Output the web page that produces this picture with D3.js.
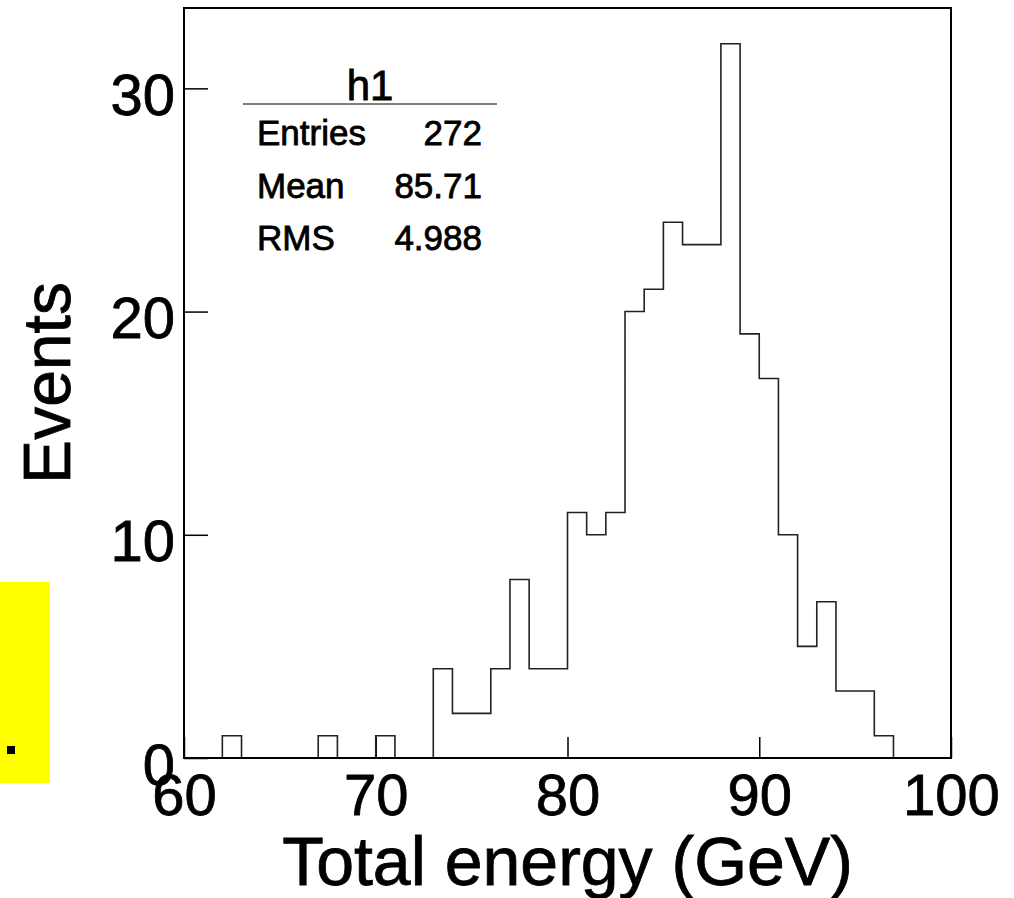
<!DOCTYPE html>
<html>
  <head>
    <!-- load the d3 javascript library -->
    <script src="https://d3js.org/d3.v7.min.js"></script>
    <style>
      body { margin: 0; background: #fff; }
      text { font-family: "Liberation Sans", Arial, sans-serif; fill: #000; stroke: #000; stroke-width: 0.8px; }
    </style>
  </head>
  <body>

    <!-- d3 script -->
    <script>

    // histogram binning (1 GeV bins from 60 to 100)
    var xMin = 60;
    var xMax = 100;
    var binWidth = 1;

    // events per bin
    var counts = [ 0, 0, 1, 0, 0, 0, 0, 1, 0, 0,
      1, 0, 0, 4, 2, 2, 4, 8, 4, 4,
      11, 10, 11, 20, 21, 24, 23, 23, 32, 19,
      17, 10, 5, 7, 3, 3, 1, 0, 0, 0 ];

    // tick labels
    var xTicks = [60, 70, 80, 90, 100];
    var yTicks = [0, 10, 20, 30];

    // stats box
    var statName = "h1";
    var statLabels = ["Entries", "Mean", "RMS"];
    var statValues = ["272", "85.71", "4.988"];

    // svg size and frame edges
    var w = 1014;
    var h = 898;
    var fLeft = 184, fRight = 951, fTop = 8, fBottom = 758;

    var svg = d3.select("body")
      .append("svg")
      .attr("width", w)
      .attr("height", h);

    // scales
    var x = d3.scaleLinear().domain([xMin, xMax]).range([fLeft, fRight]);
    var y = d3.scaleLinear().domain([0, 33.6]).range([fBottom, fTop]);

    // yellow marker on the left edge
    svg.append("rect")
      .attr("x", 0).attr("y", 582)
      .attr("width", 50).attr("height", 201)
      .attr("fill", "#ffff00");
    svg.append("rect")
      .attr("x", 7).attr("y", 746)
      .attr("width", 8).attr("height", 8)
      .attr("fill", "#000");

    // x axis (ticks pointing inward)
    var xAxis = svg.append("g")
      .attr("transform", "translate(0," + fBottom + ")")
      .call(d3.axisBottom(x).tickValues(xTicks).tickSize(-21).tickPadding(16));
    xAxis.select(".domain").remove();
    xAxis.selectAll("line").attr("stroke", "#000").attr("stroke-width", 1.5);
    xAxis.selectAll("text")
      .attr("font-size", "58px")
      .attr("font-family", "Liberation Sans, Arial, sans-serif")
      .attr("fill", "#000");

    // y axis
    var yAxis = svg.append("g")
      .attr("transform", "translate(" + fLeft + ",0)")
      .call(d3.axisLeft(y).tickValues(yTicks).tickSize(-24).tickPadding(9));
    yAxis.select(".domain").remove();
    yAxis.selectAll("line").attr("stroke", "#000").attr("stroke-width", 1.5);
    yAxis.selectAll("text")
      .attr("font-size", "58px")
      .attr("font-family", "Liberation Sans, Arial, sans-serif")
      .attr("fill", "#000")
      .attr("dy", "0.45em");

    // histogram outline
    var pts = [[xMin, 0]];
    counts.forEach(function(c, i) {
      var lo = xMin + i * binWidth;
      pts.push([lo, c]);
      pts.push([lo + binWidth, c]);
    });
    pts.push([xMax, 0]);

    var line = d3.line()
      .x(function(d) { return x(d[0]); })
      .y(function(d) { return y(d[1]); });

    svg.append("path")
      .attr("d", line(pts))
      .attr("fill", "none")
      .attr("stroke", "#222")
      .attr("stroke-width", 1.6);

    // frame
    svg.append("rect")
      .attr("x", fLeft).attr("y", fTop)
      .attr("width", fRight - fLeft).attr("height", fBottom - fTop)
      .attr("fill", "none")
      .attr("stroke", "#000")
      .attr("stroke-width", 2);

    // axis titles
    svg.append("text")
      .attr("x", (fLeft + fRight) / 2)
      .attr("y", 885)
      .attr("text-anchor", "middle")
      .attr("font-size", "68px")
      .text("Total energy (GeV)");

    svg.append("text")
      .attr("transform", "translate(70," + ((fTop + fBottom) / 2) + ") rotate(-90)")
      .attr("text-anchor", "middle")
      .attr("font-size", "66px")
      .text("Events");

    // stats box
    svg.append("text")
      .attr("x", 370).attr("y", 100)
      .attr("text-anchor", "middle")
      .attr("font-size", "42px")
      .text(statName);
    svg.append("line")
      .attr("x1", 243).attr("x2", 497)
      .attr("y1", 104).attr("y2", 104)
      .attr("stroke", "#555")
      .attr("stroke-width", 1.5);

    svg.selectAll("text.slabel")
      .data(statLabels)
      .enter()
      .append("text")
      .attr("class", "slabel")
      .attr("x", 257)
      .attr("y", function(d, i) { return 145 + i * 52.5; })
      .attr("font-size", "35px")
      .text(function(d) { return d; });

    svg.selectAll("text.svalue")
      .data(statValues)
      .enter()
      .append("text")
      .attr("class", "svalue")
      .attr("x", 482)
      .attr("y", function(d, i) { return 145 + i * 52.5; })
      .attr("text-anchor", "end")
      .attr("font-size", "35px")
      .text(function(d) { return d; });

    </script>
  </body>
</html>
